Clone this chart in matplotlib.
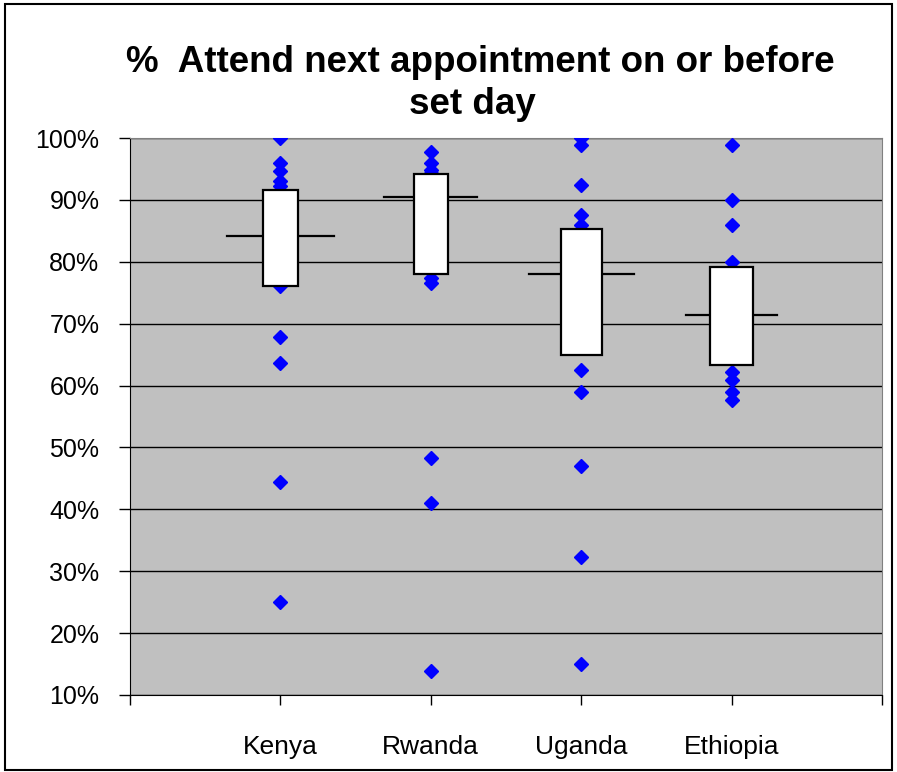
import matplotlib
matplotlib.use("Agg")
import matplotlib.pyplot as plt
from matplotlib.patches import Rectangle
import numpy as np

plt.rcParams["font.family"] = ["Liberation Sans", "DejaVu Sans"]

countries = ["Kenya", "Rwanda", "Uganda", "Ethiopia"]
q1 = [76.1, 78.1, 65.0, 63.3]
median = [84.2, 90.5, 78.1, 71.4]
q3 = [91.6, 94.2, 85.3, 79.2]

kenya_pts = [100.0, 95.9, 94.6, 93.1, 92.3, 76.1, 67.9, 63.7, 44.4, 25.0]
rwanda_pts = [97.8, 95.9, 94.8, 94.3, 77.3, 76.5, 48.3, 41.0, 13.9]
uganda_pts = [100.0, 98.9, 92.4, 87.6, 86.0, 62.5, 59.0, 47.0, 32.3, 15.0]
ethiopia_pts = [98.9, 90.0, 86.0, 80.0, 62.2, 60.9, 59.0, 57.7]
points = [kenya_pts, rwanda_pts, uganda_pts, ethiopia_pts]

yticks = [10, 20, 30, 40, 50, 60, 70, 80, 90, 100]
ytick_labels = [f"{v}%" for v in yticks]

BOX_W = [0.23, 0.23, 0.27, 0.29]
MED_W = [0.71, 0.62, 0.70, 0.60]

W, H = 897, 772
fig = plt.figure(figsize=(W / 100, H / 100), dpi=100)
ax = fig.add_axes([130 / W, 1 - 695 / H, (882 - 130) / W, (695 - 138) / H])
ax.set_facecolor("#c0c0c0")

for i, (name, pts) in enumerate(zip(countries, points)):
    x = i + 1
    ax.plot([x] * len(pts), pts, ls="none", marker="D", ms=7.2,
            color="#0000ff", mec="#0000ff", zorder=3)
    ax.plot([x - MED_W[i] / 2, x + MED_W[i] / 2], [median[i]] * 2,
            color="black", lw=1.6, zorder=4)
    ax.add_patch(Rectangle((x - BOX_W[i] / 2, q1[i]), BOX_W[i], q3[i] - q1[i],
                           facecolor="white", edgecolor="black", lw=1.6, zorder=5))

ax.set_xlim(0, 5)
ax.set_ylim(10, 100)
ax.set_yticks(yticks)
ax.set_yticklabels(ytick_labels, fontsize=18)
ax.set_xticks(range(6))
ax.set_xticklabels([""] + countries + [""], fontsize=19)
ax.yaxis.grid(True, color="black", lw=1.0)
ax.set_axisbelow(True)
ax.tick_params(axis="y", direction="out", length=8, width=1, pad=14)
ax.tick_params(axis="x", direction="out", length=7, width=1, pad=22)
for s in ("top", "right"):
    ax.spines[s].set_color("#808080")
ax.spines["left"].set_color("black")
ax.spines["bottom"].set_color("black")

fig.text(480 / W, 1 - 72 / H, "%  Attend next appointment on or before",
         ha="center", va="baseline", fontsize=26.5, fontweight="bold")
fig.text(472 / W, 1 - 114 / H, "set day",
         ha="center", va="baseline", fontsize=26.5, fontweight="bold")

fig.patches.append(Rectangle((5 / W, 2 / H), (W - 10) / W, (H - 6) / H,
                             transform=fig.transFigure, fill=False,
                             edgecolor="black", lw=1.5))

fig.savefig("out.png", dpi=100)
